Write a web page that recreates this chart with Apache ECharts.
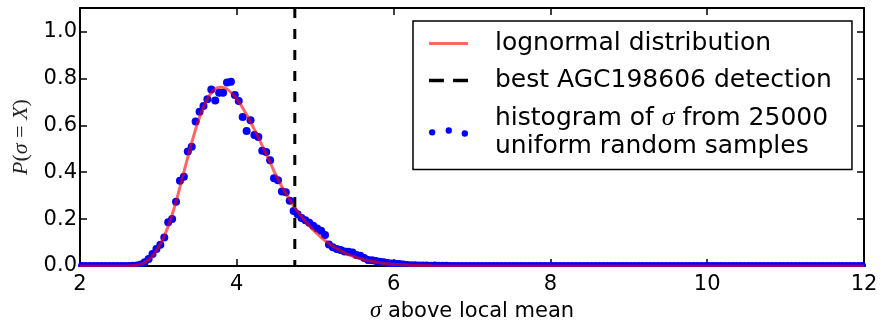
<!DOCTYPE html>
<html>
<head>
<meta charset="utf-8">
<script src="https://cdn.jsdelivr.net/npm/echarts@6/dist/echarts.min.js"></script>
<style>
html,body{margin:0;padding:0;background:#fff;}
#chart{width:881px;height:324px;}
</style>
</head>
<body>
<div id="chart"></div>
<script>
// ---- data ----
const xTickValues = [2, 4, 6, 8, 10, 12];
const yTickValues = [0.0, 0.2, 0.4, 0.6, 0.8, 1.0];

// histogram: 200 equal bins (width 0.05) between sigma 2 and 12
const binStart = 2.0;
const binEnd = 12.0;
const histY = [
  0,0,0,0,0,0,0,0,0,0,0,0,0,
  0.001,0.002,0.006,
  0.016,0.030,0.051,0.072,0.091,0.122,0.186,0.200,0.274,0.363,
  0.380,0.488,0.508,0.616,0.658,0.682,0.711,0.753,0.706,0.739,
  0.739,0.782,0.786,0.729,0.703,0.635,0.576,0.621,0.559,0.550,
  0.491,0.486,0.451,0.374,0.366,0.318,0.314,0.278,0.235,0.221,
  0.205,0.195,0.184,0.172,0.160,0.150,0.132,0.092,0.080,0.072,
  0.068,0.062,0.061,0.058,0.047,0.044,0.034,0.026,0.024,0.021,
  0.018,0.016,0.013,0.011,0.010,0.009,0.006,0.004,
  0.003,0.003,0.002,0.002,0.002,0.001,0.002,0.001,0.001,0.001,
  0,0,0,0,0,0,0,0,0,0,
  0,0,0,0,0,0,0,0,0,0,
  0,0,0,0,0,0,0,0,0,0,
  0,0,0,0,0,0,0,0,0,0,
  0,0,0,0,0,0,0,0,0,0,
  0,0,0,0,0,0,0,0,0,0,
  0,0,0,0,0,0,0,0,0,0,
  0,0,0,0,0,0,0,0,0,0,
  0,0,0,0,0,0,0,0,0,0,
  0,0,0,0,0,0,0,0,0,0,
  0,0,0,0,0,0
];

// lognormal curve, read at these sigma values
const curveX = [2.0, 2.6, 2.7, 2.75, 2.8, 2.85, 2.9, 2.95, 3.0, 3.05, 3.1, 3.15, 3.2, 3.25,
  3.3, 3.35, 3.4, 3.45, 3.5, 3.55, 3.6, 3.65, 3.7, 3.75, 3.8, 3.85, 3.9, 3.95, 4.0,
  4.05, 4.1, 4.15, 4.2, 4.25, 4.3, 4.35, 4.4, 4.45, 4.5, 4.55, 4.6, 4.65, 4.7, 4.75,
  4.8, 4.9, 5.0, 5.1, 5.2, 5.3, 5.4, 5.5, 5.6, 5.7, 5.8, 5.9, 6.0, 6.2, 6.5, 7.0, 8.0, 12.0];
const curveY = [0, 0, 0.002, 0.005, 0.010, 0.020, 0.034, 0.054, 0.080, 0.110, 0.148, 0.192, 0.245, 0.305,
  0.368, 0.432, 0.495, 0.555, 0.610, 0.657, 0.697, 0.727, 0.748, 0.759, 0.762, 0.758, 0.748, 0.732, 0.712,
  0.688, 0.660, 0.630, 0.598, 0.565, 0.530, 0.495, 0.460, 0.423, 0.387, 0.354, 0.324, 0.296, 0.269, 0.245,
  0.222, 0.180, 0.145, 0.115, 0.090, 0.069, 0.052, 0.039, 0.029, 0.021, 0.015, 0.010, 0.007, 0.003, 0.001, 0, 0, 0];

const detectionSigma = 4.74;
const detectionY = [1.1, 0];

const seriesNames = ['lognormal distribution', 'best AGC198606 detection', 'histogram of σ from 25000 uniform random samples'];

// ---- build ----
const binWidth = (binEnd - binStart) / histY.length;
const histData = histY.map((v, i) => [binStart + (i + 0.5) * binWidth, v]);
const curveData = curveX.map((x, i) => [x, curveY[i]]);
const detectionData = detectionY.map(y => [detectionSigma, y]);

const FONT = 'DejaVu Sans';
const MATH = 'Liberation Serif';

const chart = echarts.init(document.getElementById('chart'), null, {renderer: 'canvas'});

const axisCommon = {
  type: 'value', min: 2, max: 12, interval: 2,
  axisLine: {show: true, onZero: false, lineStyle: {color: '#000', width: 2}},
  axisTick: {show: true, inside: true, length: 7, lineStyle: {color: '#000', width: 1.5}},
  splitLine: {show: false}
};
const yCommon = {
  type: 'value', min: 0, max: 1.1, interval: 0.2,
  axisLine: {show: true, onZero: false, lineStyle: {color: '#000', width: 2}},
  axisTick: {show: true, inside: true, length: 7, lineStyle: {color: '#000', width: 1.5}},
  splitLine: {show: false}
};

// legend icon shapes
const solidLineIcon = 'path://M0,0H39V3H0Z';
const dashedLineIcon = 'path://M0,0H13V3H0ZM21,0H34V3H21Z';
const dotsIcon = 'path://M0,5.5a3.5,3.5 0 1,0 7,0a3.5,3.5 0 1,0 -7,0Z' +
  'M18.3,3.5a3.5,3.5 0 1,0 7,0a3.5,3.5 0 1,0 -7,0Z' +
  'M36,6.8a3.5,3.5 0 1,0 7,0a3.5,3.5 0 1,0 -7,0Z';

const option = {
  backgroundColor: '#fff',
  animation: false,
  textStyle: {fontFamily: FONT},
  grid: {left: 80, right: 17, top: 8, bottom: 58, containLabel: false, outerBoundsMode: 'none'},
  xAxis: [
    Object.assign({}, axisCommon, {
      position: 'bottom',
      axisLabel: {show: true, color: '#000', fontFamily: FONT, fontSize: 21, margin: 8,
        formatter: v => xTickValues.includes(v) ? String(v) : ''},
      name: '{i|σ}{n| above local mean}',
      nameLocation: 'middle', nameGap: 33,
      nameTextStyle: {color: '#000', fontSize: 21, fontFamily: FONT,
        rich: {
          i: {fontFamily: MATH, fontStyle: 'italic', fontSize: 23, color: '#000'},
          n: {fontFamily: FONT, fontSize: 21, color: '#000'}
        }}
    }),
    Object.assign({}, axisCommon, {position: 'top', axisLabel: {show: false}})
  ],
  yAxis: [
    Object.assign({}, yCommon, {
      position: 'left',
      axisLabel: {show: true, color: '#000', fontFamily: FONT, fontSize: 21, margin: 3,
        showMaxLabel: false,
        formatter: v => yTickValues.some(t => Math.abs(t - v) < 1e-9) ? v.toFixed(1) : ''},
      name: '{i|P}{n|(}{i|σ}{n| = }{i|X}{n|)}',
      nameLocation: 'middle', nameGap: 48, nameRotate: 90,
      nameTextStyle: {color: '#222',
        rich: {
          i: {fontFamily: MATH, fontStyle: 'italic', fontSize: 22, color: '#222'},
          n: {fontFamily: MATH, fontSize: 22, color: '#222'}
        }}
    }),
    Object.assign({}, yCommon, {position: 'right', axisLabel: {show: false}})
  ],
  legend: {
    orient: 'vertical', left: 413, top: 21,
    itemGap: 12, itemWidth: 39, itemHeight: 14,
    padding: [10, 20, 11, 16],
    borderColor: '#000', borderWidth: 1.5, borderRadius: 0,
    backgroundColor: '#fff',
    selectedMode: false,
    data: [
      {name: seriesNames[0], icon: solidLineIcon},
      {name: seriesNames[1], icon: dashedLineIcon},
      {name: seriesNames[2], icon: dotsIcon}
    ],
    formatter: function (name) {
      if (name === seriesNames[2]) {
        return '{n|histogram of }{s|σ}{n| from 25000}\n{n|uniform random samples}';
      }
      return '{n|' + name + '}';
    },
    textStyle: {
      color: '#000', fontFamily: FONT, fontSize: 25, padding: [0, 0, 0, 22],
      rich: {
        n: {fontFamily: FONT, fontSize: 25, lineHeight: 28, color: '#000'},
        s: {fontFamily: MATH, fontStyle: 'italic', fontSize: 26, lineHeight: 28, color: '#000'}
      }
    }
  },
  series: [
    {
      name: seriesNames[2], type: 'scatter', xAxisIndex: 0, yAxisIndex: 0,
      data: histData, symbol: 'circle', symbolSize: 8, z: 2,
      itemStyle: {color: '#0000ff', opacity: 1}
    },
    {
      name: seriesNames[0], type: 'line', xAxisIndex: 0, yAxisIndex: 0,
      data: curveData, showSymbol: false, symbol: 'none', smooth: 0.2, z: 3,
      lineStyle: {color: 'rgba(255,0,0,0.6)', width: 3},
      itemStyle: {color: 'rgba(255,0,0,0.6)'}
    },
    {
      name: seriesNames[1], type: 'line', xAxisIndex: 0, yAxisIndex: 0,
      data: detectionData, showSymbol: false, symbol: 'none', z: 4,
      lineStyle: {color: '#000', width: 3, type: [10, 11]},
      itemStyle: {color: '#000'}
    }
  ],
  graphic: [
    {type: 'rect', z: 100, silent: true,
      shape: {x: 78, y: 267, width: 790, height: 5},
      style: {fill: '#fff'}}
  ]
};

chart.setOption(option);
</script>
</body>
</html>
